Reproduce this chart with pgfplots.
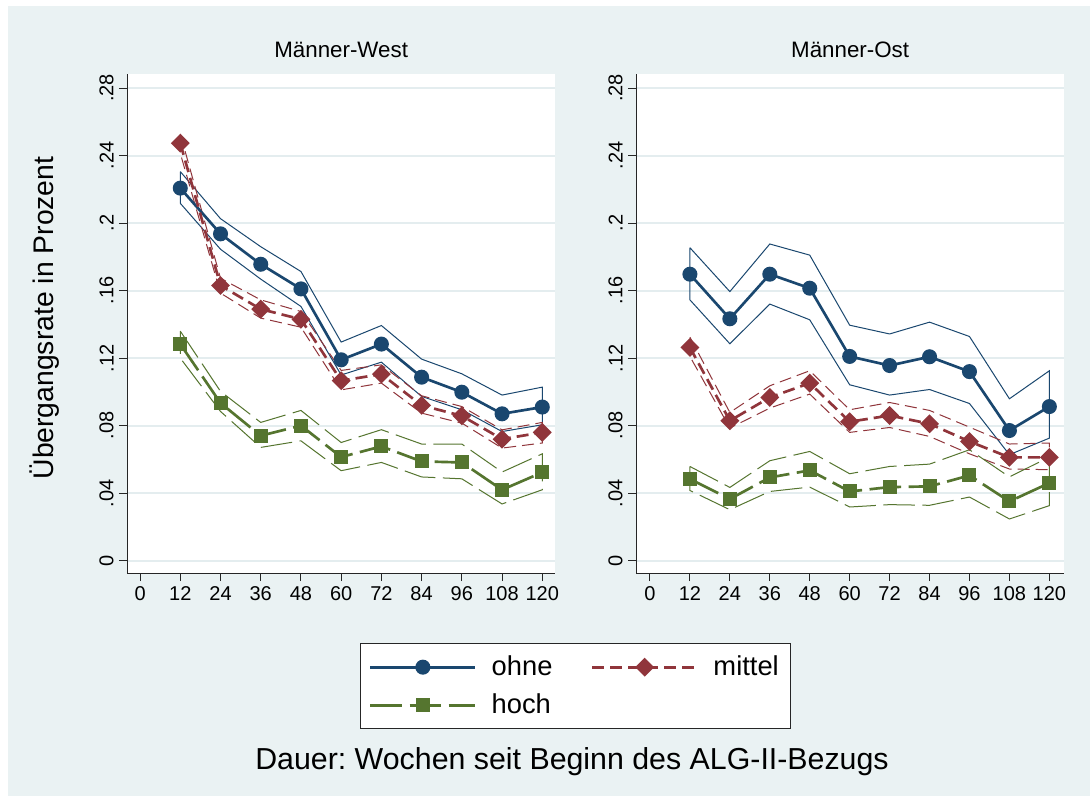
\documentclass[border=0pt]{standalone}
\usepackage{pgfplots}
\pgfplotsset{compat=1.18}
\usepackage{fontspec}
\setmainfont{Liberation Sans}
\frenchspacing
\definecolor{navyS}{RGB}{26,71,111}
\definecolor{maroonS}{RGB}{144,53,59}
\definecolor{greenS}{RGB}{85,117,47}
\definecolor{bgS}{RGB}{234,242,243}
\definecolor{gridS}{RGB}{228,237,239}
\pgfplotsset{
  panel/.style={
    scale only axis, width=257pt, height=299.4pt,
    ymin=-0.0073, ymax=0.2883,
    axis x line*=bottom, axis y line*=left,
    axis line style={black!85, line width=0.6pt, -},
    axis background/.style={fill=white},
    xtick={0,12,24,36,48,60,72,84,96,108,120},
    xticklabels={0,12,24,36,48,60,72,84,96,108,120},
    ytick={0,0.04,0.08,0.12,0.16,0.2,0.24,0.28},
    yticklabels={0,.04,.08,.12,.16,.2,.24,.28},
    tick align=outside, major tick length=4.8pt,
    tick style={black!85, line width=0.6pt},
    ticklabel style={font=\fontsize{12}{14}\selectfont},
    yticklabel style={rotate=90, anchor=south, inner sep=3pt},
    xticklabel style={inner sep=3pt},
    ymajorgrids, grid style={color=gridS, line width=1.2pt},
    title style={at={(0.5,1)}, anchor=center, yshift=8.4pt, font=\fontsize{13.4}{15}\selectfont},
    clip=false,
    legend image code/.code={
      \draw[mark repeat=2,mark phase=2] plot coordinates {(0pt,0pt) (31.5pt,0pt) (63pt,0pt)};
    },
  },
  ohne/.style={color=navyS, line width=1.6pt, mark=*, mark size=3.7pt, mark options={solid}},
  mittel/.style={color=maroonS, line width=1.6pt, dash pattern=on 7.2pt off 3.6pt, mark=square*, mark size=3.2pt, mark options={solid, rotate=45}},
  hoch/.style={color=greenS, line width=1.6pt, dash pattern=on 19pt off 4.5pt, mark=square*, mark size=3.4pt, mark options={solid}},
  ciO/.style={color=navyS, line width=0.6pt, no marks, forget plot},
  ciM/.style={color=maroonS, line width=0.6pt, dash pattern=on 7.2pt off 3.6pt, no marks, forget plot},
  ciH/.style={color=greenS, line width=0.6pt, dash pattern=on 19pt off 4.5pt, no marks, forget plot},
}
\begin{document}
\begin{tikzpicture}[x=0.6pt, y=0.6pt]
\fill[white] (0,0) rectangle (1090,796);
\fill[bgS] (8,0) rectangle (1090,790);

% ---------------- Männer-West ----------------
\begin{axis}[panel, at={(76.2pt,133.8pt)}, anchor=south west,
  xmin=-3.9, xmax=123.9, title={Männer-West},
  legend columns=2, legend cell align=left,
  legend style={at={(0.5444,-0.1403)}, anchor=north west, draw=black!85, fill=white,
    line width=0.6pt, font=\fontsize{16.4}{19}\selectfont, inner xsep=5pt, inner ysep=5.5pt,
    /tikz/row sep=5.5pt,
    /tikz/every odd column/.append style={column sep=7pt},
    /tikz/every even column/.append style={column sep=21pt}}]
\addplot[ciO] coordinates {(12,.2305)(24,.2026)(36,.186)(48,.1713)(60,.1295)(72,.1393)(84,.1194)(96,.1107)(108,.0981)(120,.1028)
  (120,.0805)(108,.0765)(96,.0894)(84,.0973)(72,.1176)(60,.110)(48,.1506)(36,.1668)(24,.1845)(12,.2117)(12,.2305)};
\addplot[ciM] coordinates {(12,.2528)(24,.1673)(36,.1545)(48,.1476)(60,.1127)(72,.116)(84,.0977)(96,.0913)(108,.0775)(120,.0819)
  (120,.0697)(108,.0667)(96,.0815)(84,.0874)(72,.1052)(60,.1012)(48,.1383)(36,.1437)(24,.1585)(12,.2413)(12,.2528)};
\addplot[ciH] coordinates {(12,.136)(24,.1003)(36,.0819)(48,.089)(60,.070)(72,.0776)(84,.0691)(96,.0691)(108,.0525)(120,.0633)
  (120,.042)(108,.0336)(96,.0485)(84,.0496)(72,.0582)(60,.0533)(48,.071)(36,.0671)(24,.0884)(12,.120)(12,.136)};
\addplot[ohne] coordinates {(12,.2207)(24,.1936)(36,.1756)(48,.161)(60,.119)(72,.1283)(84,.1087)(96,.0998)(108,.087)(120,.091)};
\addplot[mittel] coordinates {(12,.2473)(24,.163)(36,.149)(48,.143)(60,.1066)(72,.1105)(84,.092)(96,.0858)(108,.072)(120,.076)};
\addplot[hoch] coordinates {(12,.1283)(24,.0934)(36,.074)(48,.080)(60,.0614)(72,.0677)(84,.0588)(96,.0582)(108,.042)(120,.0523)};
\legend{ohne, mittel, hoch}
\end{axis}

% ---------------- Männer-Ost ----------------
\begin{axis}[panel, at={(381.6pt,133.8pt)}, anchor=south west,
  xmin=-4.2, xmax=124.5, title={Männer-Ost}]
\addplot[ciO] coordinates {(12,.1854)(24,.1594)(36,.1876)(48,.181)(60,.1395)(72,.1343)(84,.1413)(96,.1328)(108,.0959)(120,.1125)
  (120,.0726)(108,.0628)(96,.0931)(84,.1014)(72,.0981)(60,.1042)(48,.1427)(36,.152)(24,.1285)(12,.1545)(12,.1854)};
\addplot[ciM] coordinates {(12,.1324)(24,.0878)(36,.1036)(48,.1125)(60,.0894)(72,.0937)(84,.089)(96,.0791)(108,.0691)(120,.0697)
  (120,.0539)(108,.0543)(96,.0633)(84,.0736)(72,.0789)(60,.076)(48,.0987)(36,.0904)(24,.0786)(12,.121)(12,.1324)};
\addplot[ciH] coordinates {(12,.0558)(24,.0434)(36,.0592)(48,.0647)(60,.0515)(72,.0558)(84,.0572)(96,.0657)(108,.0496)(120,.0614)
  (120,.0326)(108,.0247)(96,.0377)(84,.0328)(72,.0332)(60,.0318)(48,.0436)(36,.041)(24,.0302)(12,.0416)(12,.0558)};
\addplot[ohne] coordinates {(12,.1697)(24,.1433)(36,.1697)(48,.1614)(60,.121)(72,.1156)(84,.1208)(96,.112)(108,.0771)(120,.0913)};
\addplot[mittel] coordinates {(12,.1263)(24,.0829)(36,.0967)(48,.1052)(60,.0823)(72,.086)(84,.0811)(96,.0706)(108,.0612)(120,.0612)};
\addplot[hoch] coordinates {(12,.0484)(24,.0365)(36,.0493)(48,.0535)(60,.041)(72,.0436)(84,.044)(96,.0505)(108,.0351)(120,.046)};
\end{axis}

\node[rotate=90, font=\fontsize{17}{20}\selectfont] at (45,478) {Übergangsrate in Prozent};
\node[font=\fontsize{18.2}{21}\selectfont] at (572,34) {Dauer: Wochen seit Beginn des ALG-II-Bezugs};
\pgfresetboundingbox
\useasboundingbox (0,0) rectangle (1090,796);
\end{tikzpicture}
\end{document}
